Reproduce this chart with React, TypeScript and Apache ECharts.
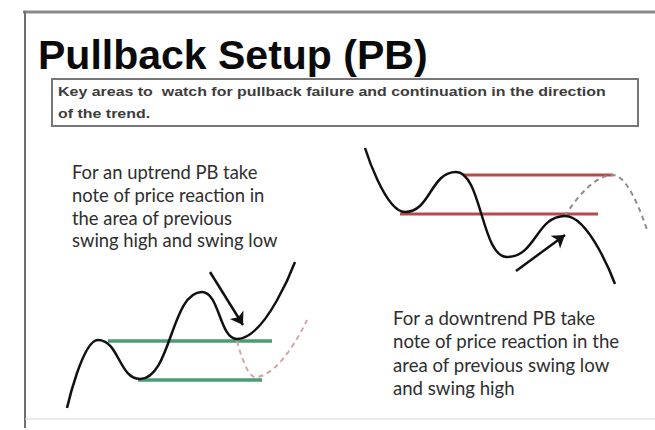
import React, { useEffect, useRef } from "react";
import * as echarts from "echarts";

const titleText = "Pullback Setup (PB)";
const boxLines = [
  "Key areas to  watch for pullback failure and continuation in the direction",
  "of the trend.",
];
const upNote = [
  "For an uptrend PB take",
  "note of price reaction in",
  "the area of previous",
  "swing high and swing low",
];
const downNote = [
  "For a downtrend PB take",
  "note of price reaction in the",
  "area of previous swing low",
  "and swing high",
];

// Sketch points (x, y) in slide units
const upTrend = [[67, 408], [98, 340], [140, 379], [202, 292], [237, 339], [295, 262]];
const upProjection = [[237, 341], [255, 377], [307, 320]];
const upSwingHigh = [[108, 341], [272, 341]];
const upSwingLow = [[138, 380], [262, 380]];
const upArrow = [[210, 272], [243, 325]];

const downTrend = [[365, 148], [405, 212], [456, 172], [507, 257], [565, 216], [615, 284]];
const downProjection = [[565, 216], [613, 175], [647, 230]];
const downSwingHigh = [[463, 175], [613, 175]];
const downSwingLow = [[400, 214], [598, 214]];
const downArrow = [[516, 271], [565, 235]];

const noteFont = 'Lato, "Open Sans", sans-serif';
const headFont = '"Liberation Sans", Arial, sans-serif';

function textLines(
  lines: string[], x: number, y0: number, lh: number, size: number,
  weight: string, family: string, color: string, scaleX = 1
) {
  return lines.map((t, i) => ({
    type: "text",
    x,
    y: y0 + i * lh,
    scaleX,
    silent: true,
    style: {
      text: t,
      fontSize: size,
      fontWeight: weight,
      fontFamily: family,
      fill: color,
      align: "left",
      verticalAlign: "middle",
    },
  }));
}

function straight(data: number[][], color: string, width: number) {
  return {
    type: "line",
    data,
    symbol: "none",
    silent: true,
    lineStyle: { color, width },
    z: 2,
  };
}

function arrowMark(arr: number[][]) {
  return {
    silent: true,
    symbol: ["none", "arrow"],
    symbolSize: 12,
    label: { show: false },
    lineStyle: { color: "#111", width: 2.5, type: "solid" },
    emphasis: { disabled: true },
    data: [[{ coord: arr[0] }, { coord: arr[1] }]],
  };
}

export default function App() {
  const ref = useRef<HTMLDivElement>(null);
  useEffect(() => {
    document.body.style.margin = "0";
    const chart = echarts.init(ref.current!, null, { renderer: "svg" });
    const curveBase = {
      type: "line",
      symbol: "none",
      silent: true,
      smooth: 0.5,
      smoothMonotone: "x",
      z: 3,
    };
    chart.setOption({
      animation: false,
      backgroundColor: "#ffffff",
      grid: { left: 0, right: 0, top: 0, bottom: 0 },
      xAxis: { type: "value", min: 0, max: 655, show: false },
      yAxis: { type: "value", min: 0, max: 430, inverse: true, show: false },
      series: [
        straight(upSwingHigh, "#4b9c74", 3.5),
        straight(upSwingLow, "#4b9c74", 3.5),
        straight(downSwingHigh, "#b84a4d", 3),
        straight(downSwingLow, "#b84a4d", 3),
        {
          ...curveBase,
          data: upProjection,
          lineStyle: { color: "#d3a4a4", width: 2, type: [5, 4] },
          z: 2,
        },
        {
          ...curveBase,
          data: downProjection,
          lineStyle: { color: "#8e8e8e", width: 2, type: [5, 4] },
          z: 2,
        },
        {
          ...curveBase,
          data: upTrend,
          lineStyle: { color: "#111", width: 2.5 },
          markLine: arrowMark(upArrow),
        },
        {
          ...curveBase,
          data: downTrend,
          lineStyle: { color: "#111", width: 2.5 },
          markLine: arrowMark(downArrow),
        },
      ],
      graphic: [
        { type: "line", silent: true, shape: { x1: 23, y1: 12, x2: 655, y2: 12 }, style: { stroke: "#8a8a8a", lineWidth: 3 } },
        { type: "line", silent: true, shape: { x1: 25, y1: 11, x2: 25, y2: 428 }, style: { stroke: "#6f6f6f", lineWidth: 2 } },
        { type: "line", silent: true, shape: { x1: 25, y1: 419, x2: 655, y2: 419 }, style: { stroke: "#d6d6d6", lineWidth: 1 } },
        {
          type: "rect",
          silent: true,
          shape: { x: 52, y: 79, width: 586, height: 47 },
          style: { fill: "#ffffff", stroke: "#777777", lineWidth: 2 },
        },
        ...textLines([titleText], 38, 55, 0, 41, "bold", headFont, "#0a0a0a"),
        ...textLines(boxLines, 58, 92, 22, 12, "bold", headFont, "#3c3c3c", 1.33),
        ...textLines(upNote, 72, 172, 22.8, 18.4, "normal", noteFont, "#2e2e2e"),
        ...textLines(downNote, 393, 318, 23.3, 18.6, "normal", noteFont, "#2e2e2e"),
      ],
    });
    return () => chart.dispose();
  }, []);
  return <div ref={ref} style={{ width: 655, height: 430, background: "#fff" }} />;
}
